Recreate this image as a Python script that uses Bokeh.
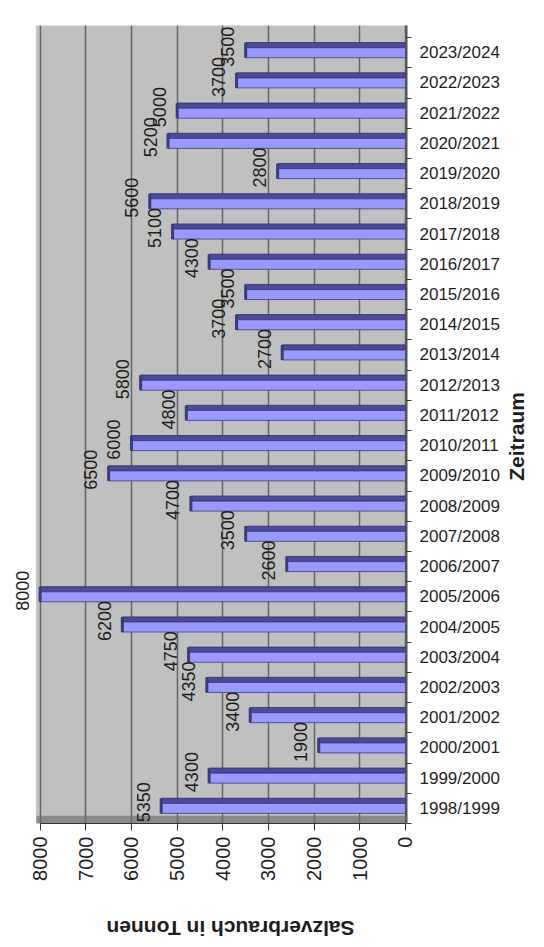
import math
from bokeh.plotting import figure
from bokeh.layouts import column, row
from bokeh.models import (ColumnDataSource, Range1d, FixedTicker, BoxAnnotation)
from bokeh.core.properties import value
from bokeh.transform import dodge
from bokeh.embed import file_html
from bokeh.resources import INLINE

# ---- data ----
zeitraum = ["1998/1999", "1999/2000", "2000/2001", "2001/2002", "2002/2003",
            "2003/2004", "2004/2005", "2005/2006", "2006/2007", "2007/2008",
            "2008/2009", "2009/2010", "2010/2011", "2011/2012", "2012/2013",
            "2013/2014", "2014/2015", "2015/2016", "2016/2017", "2017/2018",
            "2018/2019", "2019/2020", "2020/2021", "2021/2022", "2022/2023",
            "2023/2024"]
salzverbrauch = [5350, 4300, 1900, 3400, 4350, 4750, 6200, 8000, 2600, 3500,
                 4700, 6500, 6000, 4800, 5800, 2700, 3700, 3500, 4300, 5100,
                 5600, 2800, 5200, 5000, 3700, 3500]
x_ticks = [0, 1000, 2000, 3000, 4000, 5000, 6000, 7000, 8000]
x_title = "Salzverbrauch in Tonnen"
y_title = "Zeitraum"

FONT = "Liberation Sans"
TXT = "#1e1e1e"
WALL_PAD = 80      # the 3D back wall reaches slightly past the last tick
LABEL_GAP = 394    # value labels sit this far (in data units) past the bar end

n = len(zeitraum)
idx = list(range(n))
src = ColumnDataSource(dict(y=idx, v=salzverbrauch, z=[0] * n,
                            lbl=[str(s) for s in salzverbrauch]))

MAIN_W, MAIN_H = 505, 905

p = figure(width=MAIN_W, height=MAIN_H, output_backend="svg", toolbar_location=None,
           x_range=Range1d(8868, -22), y_range=Range1d(-0.5, n - 0.1),
           x_axis_location="below", y_axis_location="right",
           min_border_left=0, min_border_right=99,
           min_border_top=25, min_border_bottom=82)

p.background_fill_color = "white"
p.border_fill_color = "white"
p.outline_line_color = None

wall_left = max(x_ticks) + WALL_PAD
# gray back wall and darker floor of the 3D chart
p.add_layout(BoxAnnotation(left=wall_left, fill_color="#C0C0C0", fill_alpha=1,
                           line_color="#8C8C8C", line_width=1, level="image"))
p.add_layout(BoxAnnotation(left=wall_left, bottom=-0.5, top=-0.24,
                           fill_color="#8A8A8A", fill_alpha=1, line_color=None,
                           level="image"))

# grid
p.xgrid.ticker = FixedTicker(ticks=x_ticks)
p.xgrid.grid_line_color = "#666666"
p.xgrid.grid_line_width = 1.5
p.ygrid.visible = False

# bars: top face, front face, end cap
p.hbar(y=dodge("y", 0.25, range=p.y_range), left="z", right="v", height=0.17,
       source=src, fill_color="#4B4B98", line_color="#2E2E6A", line_width=0.8)
p.hbar(y="y", left="z", right="v", height=0.33, source=src,
       fill_color="#9999FF", line_color="#3A3A80", line_width=0.8)
p.rect(x="v", y=dodge("y", 0.08, range=p.y_range), width=3, width_units="screen",
       height=0.5, source=src, fill_color="#3A3A80", line_color=None)

# value labels (rotated, reading upwards, left of the bar ends)
p.text(x=dodge("v", LABEL_GAP, range=p.x_range), y=dodge("y", 0.2, range=p.y_range),
       text="lbl", source=src, angle=math.pi / 2 - 1e-4, text_align="center",
       text_baseline="middle", text_font=value(FONT), text_font_size="18px",
       text_color=TXT)

# x axis (values)
xa = p.xaxis[0]
xa.ticker = FixedTicker(ticks=x_ticks)
xa.bounds = (0, 8000)
xa.major_label_orientation = math.pi / 2
xa.major_label_text_font = FONT
xa.major_label_text_font_size = "20px"
xa.major_label_text_color = TXT
xa.major_tick_out = 7
xa.major_tick_in = 0
xa.minor_tick_line_color = None
xa.axis_line_color = "#333333"
xa.major_tick_line_color = "#333333"
xa.major_label_standoff = 6

# y axis (categories)
ya = p.yaxis[0]
ya.ticker = FixedTicker(ticks=idx, minor_ticks=[i - 0.5 for i in range(n + 1)])
ya.major_label_overrides = {i: z for i, z in enumerate(zeitraum)}
ya.major_label_text_font = FONT
ya.major_label_text_font_size = "17px"
ya.major_label_text_color = TXT
ya.major_tick_in = 0
ya.major_tick_out = 0
ya.minor_tick_in = 0
ya.minor_tick_out = 5
ya.minor_tick_line_color = "#333333"
ya.axis_line_color = "#555555"
ya.axis_line_width = 2
ya.major_label_standoff = 8


def blank(w, h):
    f = figure(width=w, height=h, output_backend="svg", toolbar_location=None,
               x_range=Range1d(0, w), y_range=Range1d(h, 0),
               x_axis_type=None, y_axis_type=None,
               min_border=0, outline_line_color=None)
    f.grid.visible = False
    f.background_fill_color = "white"
    f.border_fill_color = "white"
    return f


# "Zeitraum" column to the right of the category labels
zf = blank(544 - MAIN_W, MAIN_H)
zf.text(x=[11], y=[466], text=[y_title], angle=math.pi / 2,
        text_align="center", text_baseline="middle",
        text_font=value(FONT), text_font_size="21px", text_font_style="bold",
        text_color=TXT)

# upside-down value-axis title below
tf = blank(544, 947 - MAIN_H)
tf.text(x=[230], y=[23], text=[x_title], angle=math.pi,
        text_align="center", text_baseline="middle",
        text_font=value(FONT), text_font_size="21px", text_font_style="bold",
        text_color=TXT)

layout = column(row(p, zf, spacing=0), tf, spacing=0)

open("out.html", "w").write(file_html(layout, INLINE))
